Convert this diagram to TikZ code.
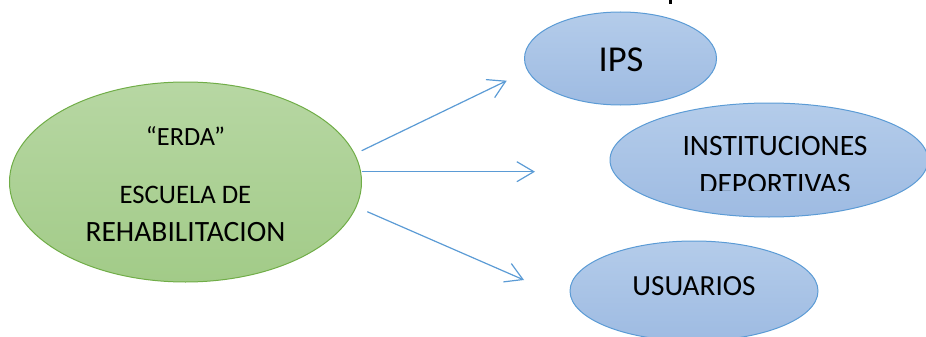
\documentclass[tikz,border=0pt]{standalone}
\usepackage{fontspec}
\setmainfont{Carlito}
\usetikzlibrary{arrows.meta}
\definecolor{gtop}{HTML}{B7D7A3}
\definecolor{gbot}{HTML}{A2CB88}
\definecolor{gline}{HTML}{70AD47}
\definecolor{btop}{HTML}{B4CCEA}
\definecolor{bbot}{HTML}{9EBBE2}
\definecolor{bline}{HTML}{5B9BD5}
\tikzset{
  greenell/.style={ellipse, draw=gline, line width=1pt, top color=gtop, bottom color=gbot},
  blueell/.style={ellipse, draw=bline, line width=1pt, top color=btop, bottom color=bbot},
  conn/.style={draw=bline, line width=1.2pt, -{Straight Barb[length=17pt,width=20pt,line width=1.2pt]}},
  lbl/.style={inner sep=0pt, anchor=base, text=black},
}
\usetikzlibrary{shapes.geometric}
\begin{document}
\begin{tikzpicture}[x=1pt,y=-1pt]
\useasboundingbox (0,0) rectangle (926,337);
\begin{scope}
\clip (0,0) rectangle (926,337);
% ellipses
\path[greenell] (185.5,182) ellipse [x radius=176, y radius=100];
\path[blueell] (769,160) ellipse [x radius=159, y radius=57];
\path[blueell] (620.5,58.5) ellipse [x radius=96, y radius=46.5];
\path[blueell] (694,291) ellipse [x radius=124, y radius=50];
\coordinate (erda) at (185.5,182);
\coordinate (ips) at (620.5,58.5);
\coordinate (inst) at (769,160);
\coordinate (usu) at (694,291);
% texts
\node[lbl, font=\fontsize{26.3}{30}\selectfont] (t1) at (185.5,145.7) {“ERDA”};
\node[lbl, font=\fontsize{26.7}{30}\selectfont] (t2) at (185.5,203) {ESCUELA DE};
\node[lbl, font=\fontsize{29.5}{34}\selectfont] (t3) at (185.5,241.7) {REHABILITACION};
\node[lbl, font=\fontsize{36.5}{42}\selectfont] (t4) at (621,71) {IPS};
\node[lbl, font=\fontsize{29.6}{35}\selectfont] (t5) at (775,155) {INSTITUCIONES};
\begin{scope}
\clip (600,120) rectangle (926,190.7);
\node[lbl, font=\fontsize{29.6}{35}\selectfont] (t6) at (775,193) {DEPORTIVAS};
\end{scope}
\node[lbl, font=\fontsize{29.2}{34}\selectfont] (t7) at (694,295) {USUARIOS};
% stray mark at top
\fill[black] (669.3,0) rectangle (672.2,4.4);
% connectors
\coordinate (s1) at (361.7,150.7);
\coordinate (e1) at (506.7,80.7);
\coordinate (s2) at (361.7,171.7);
\coordinate (e2) at (535,171.7);
\coordinate (s3) at (367.3,211.7);
\coordinate (e3) at (524,280);
\path[conn] (s1) -- (e1);
\path[conn] (s2) -- (e2);
\path[conn] (s3) -- (e3);
\end{scope}
\end{tikzpicture}
\end{document}
